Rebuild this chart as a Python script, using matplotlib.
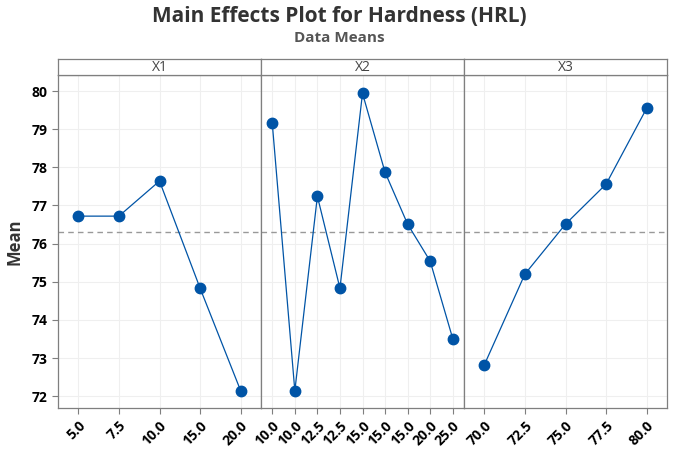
import matplotlib
matplotlib.use("Agg")
import matplotlib.pyplot as plt

plt.rcParams["font.family"] = ["Open Sans", "DejaVu Sans"]

# data
x1_labels = ["5.0", "7.5", "10.0", "15.0", "20.0"]
x1_means = [76.72, 76.72, 77.64, 74.83, 72.14]

x2_labels = ["10.0", "10.0", "12.5", "12.5", "15.0", "15.0", "15.0", "20.0", "25.0"]
x2_means = [79.15, 72.14, 77.24, 74.83, 79.94, 77.87, 76.51, 75.54, 73.51]

x3_labels = ["70.0", "72.5", "75.0", "77.5", "80.0"]
x3_means = [72.82, 75.20, 76.51, 77.56, 79.55]

factors = ["X1", "X2", "X3"]
grand_mean = 76.30
y_ticks = [72, 73, 74, 75, 76, 77, 78, 79, 80]

W, H = 678, 453
fig = plt.figure(figsize=(W / 100, H / 100), dpi=100)

left, panel_w = 58, 203
top, bottom = 75, 408
strip_h = 16
blue = "#0054a6"
edge = "#7f7f7f"

panels = [(x1_labels, x1_means), (x2_labels, x2_means), (x3_labels, x3_means)]
for i, ((labels, means), name) in enumerate(zip(panels, factors)):
    x0 = left + i * panel_w
    ax = fig.add_axes([x0 / W, 1 - bottom / H, panel_w / W, (bottom - top) / H])
    xs = list(range(len(labels)))
    ax.plot(xs, means, color=blue, linewidth=0.9, marker="o", markersize=7.5, zorder=3)
    ax.axhline(grand_mean, color="#999999", linestyle=(0, (4, 3)), linewidth=1.0, zorder=2)
    ax.set_xlim(-0.5, len(labels) - 0.5)
    ax.set_ylim(71.69, 80.42)
    ax.set_xticks(xs)
    ax.set_xticklabels(labels, rotation=45, ha="right", rotation_mode="anchor",
                       fontweight="bold", fontsize=10)
    ax.set_yticks(y_ticks)
    ax.grid(True, color="#efefef", linewidth=0.8, zorder=0)
    ax.set_axisbelow(True)
    for sp in ax.spines.values():
        sp.set_color(edge)
        sp.set_linewidth(0.9)
    ax.tick_params(axis="both", colors=edge, length=4, width=0.8, labelcolor="black")
    if i == 0:
        ax.set_yticklabels([str(t) for t in y_ticks], fontweight="bold", fontsize=10)
        ax.set_ylabel("Mean", fontsize=12, fontweight="bold", color="#333333", labelpad=6)
    else:
        ax.tick_params(axis="y", left=False, labelleft=False)

    # facet strip
    sax = fig.add_axes([x0 / W, 1 - top / H, panel_w / W, strip_h / H])
    sax.set_xticks([])
    sax.set_yticks([])
    for sp in sax.spines.values():
        sp.set_color(edge)
        sp.set_linewidth(0.9)
    sax.text(0.5, 0.45, name, ha="center", va="center", fontsize=10, color="#444444",
             transform=sax.transAxes)

fig.text(0.5, 1 - 16 / H, "Main Effects Plot for Hardness (HRL)", ha="center", va="center",
         fontsize=15, fontweight="bold", color="#333333")
fig.text(0.5, 1 - 38 / H, "Data Means", ha="center", va="center",
         fontsize=11, fontweight="bold", color="#555555")

fig.savefig("out.png", dpi=100)
